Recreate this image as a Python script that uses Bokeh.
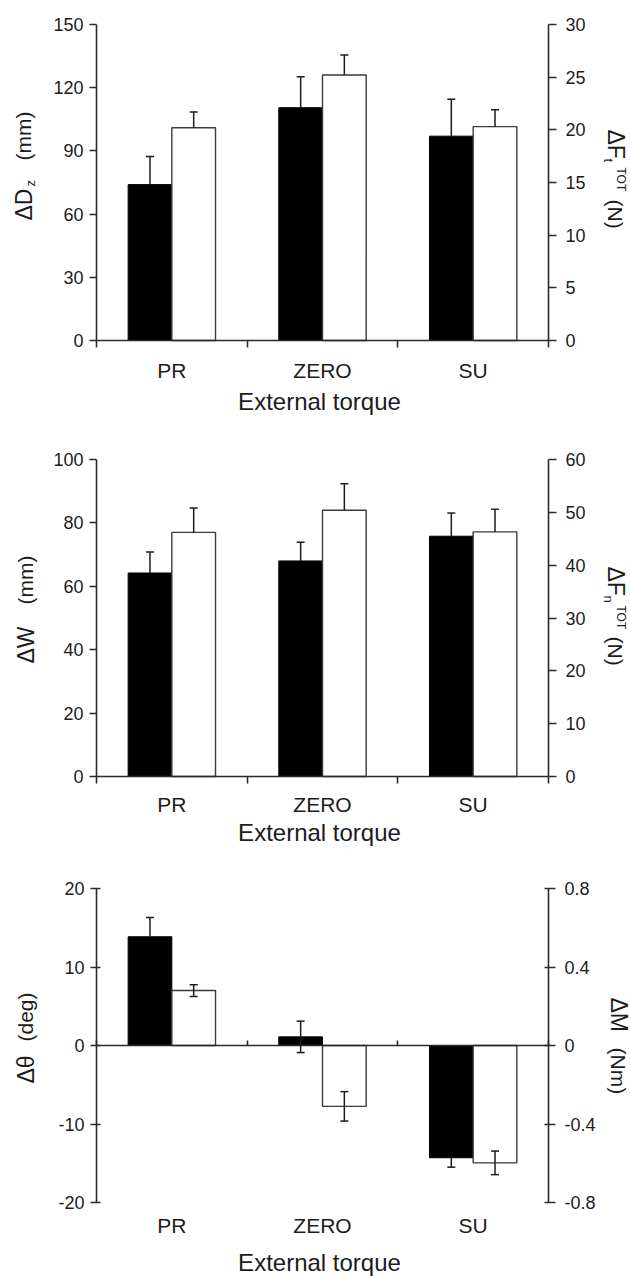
from bokeh.plotting import figure
from bokeh.models import Range1d, LinearAxis, FixedTicker, Whisker, TeeHead, ColumnDataSource, Label
from bokeh.layouts import column
from bokeh.embed import file_html
from bokeh.resources import INLINE
import math

# ---------------- data ----------------
categories = ["PR", "ZERO", "SU"]
x_title = "External torque"

# panel 1: black = ΔDz (mm, left axis), white = ΔFt_TOT (N, right axis)
dz_mm = [74.0, 110.5, 97.0]
dz_err = [13.3, 14.7, 17.5]
ft_n = [20.2, 25.2, 20.3]
ft_err = [1.5, 1.9, 1.6]

# panel 2: black = ΔW (mm), white = ΔFn_TOT (N)
w_mm = [64.2, 68.0, 75.8]
w_err = [6.6, 5.9, 7.3]
fn_n = [46.2, 50.4, 46.3]
fn_err = [4.6, 5.0, 4.3]

# panel 3: black = Δθ (deg), white = ΔM (Nm)
theta_deg = [13.85, 1.1, -14.3]
theta_err_up = [2.45, 2.0, 0.0]
theta_err_down = [0.0, 2.0, 1.2]
m_nm = [0.28, -0.31, -0.598]
m_err_up = [0.03, 0.075, 0.06]
m_err_down = [0.03, 0.075, 0.06]

ticks1_l = [0, 30, 60, 90, 120, 150]
ticks1_r = [0, 5, 10, 15, 20, 25, 30]
ticks2_l = [0, 20, 40, 60, 80, 100]
ticks2_r = [0, 10, 20, 30, 40, 50, 60]
ticks3_l = [-20, -10, 0, 10, 20]
ticks3_l_text = ["-20", "-10", "0", "10", "20"]
ticks3_r = [-0.8, -0.4, 0, 0.4, 0.8]
ticks3_r_text = ["-0.8", "-0.4", "0", "0.4", "0.8"]

# ---------------- layout constants ----------------
W = 630
FL, FR = 96, 548
FONT = "Liberation Sans"
INK = "#1c1c1c"
AX = "#2a2a2a"
BW = 0.29
BIG = 23    # Δ-symbol pieces of axis titles
MID = 21    # unit pieces of axis titles


class G:
    def __init__(self, height, top, bottom, yl, yr):
        self.height, self.top, self.bottom, self.yl, self.yr = height, top, bottom, yl, yr


def extend(lo, hi, px_lo, px_hi, m_lo, m_hi):
    s = (hi - lo) / (px_hi - px_lo)
    return lo - m_lo * s, hi + m_hi * s


def px2data(g, px, py):
    xd = (px - FL) / (FR - FL) * 3.0
    yd = g.yl[0] + (g.bottom - py) / (g.bottom - g.top) * (g.yl[1] - g.yl[0])
    return xd, yd


def label(p, g, text, px, py, size, angle=0.0, align="left", baseline="middle"):
    xd, yd = px2data(g, px, py)
    p.add_layout(Label(x=xd, y=yd, text=text, angle=angle, text_align=align,
                       text_baseline=baseline, text_font=FONT,
                       text_font_size=f"{size}px", text_color=INK))


def style_y(ax, ticks, tin, tout, standoff):
    ax.ticker = FixedTicker(ticks=ticks)
    ax.minor_tick_line_color = None
    ax.major_tick_in = tin
    ax.major_tick_out = tout
    ax.axis_line_width = 1.6
    ax.axis_line_color = AX
    ax.major_tick_line_width = 1.6
    ax.major_tick_line_color = AX
    ax.major_label_text_font = FONT
    ax.major_label_text_font_size = "18px"
    ax.major_label_text_color = INK
    ax.major_label_standoff = standoff


def make_fig(g, ticks_l, ticks_r, zero_axis=False):
    xr = Range1d(*extend(0, 3, FL, FR, FL, W - FR))
    ylo, yhi = extend(g.yl[0], g.yl[1], 0, g.bottom - g.top, g.height - g.bottom, g.top)
    rlo, rhi = extend(g.yr[0], g.yr[1], 0, g.bottom - g.top, g.height - g.bottom, g.top)
    p = figure(width=W, height=g.height, x_range=xr, y_range=Range1d(ylo, yhi),
               output_backend="svg", toolbar_location=None,
               x_axis_location=None, y_axis_location=None,
               min_border=0, min_border_left=0, min_border_right=0,
               min_border_top=0, min_border_bottom=0)
    p.extra_y_ranges = {"r": Range1d(rlo, rhi)}
    p.outline_line_color = None
    for gr in p.grid:
        gr.visible = False
    p.background_fill_color = "white"
    p.border_fill_color = "white"

    tin, tout = (4, 6) if zero_axis else (0, 7)
    lax = LinearAxis(fixed_location=0, bounds=g.yl)
    style_y(lax, ticks_l, tin, tout, 6)
    p.add_layout(lax, "left")
    rax = LinearAxis(y_range_name="r", fixed_location=3, bounds=g.yr)
    style_y(rax, ticks_r, tin, tout + 1, 9)
    p.add_layout(rax, "right")

    xa = LinearAxis(fixed_location=0, bounds=(0, 3))
    xa.ticker = FixedTicker(ticks=[], minor_ticks=[0, 1, 2, 3])
    xa.axis_line_width = 1.6
    xa.axis_line_color = AX
    xa.minor_tick_line_color = AX
    xa.minor_tick_line_width = 1.6
    xa.major_tick_line_color = None
    xa.major_label_text_font_size = "1px"
    if zero_axis:
        xa.minor_tick_in = 5
        xa.minor_tick_out = 0
    else:
        xa.minor_tick_in = 0
        xa.minor_tick_out = 7
    p.add_layout(xa, "below")
    return p, lax, rax


def bars(p, black, white):
    xb = [i + 0.5 - BW / 2 for i in range(len(categories))]
    xw = [i + 0.5 + BW / 2 for i in range(len(categories))]
    p.vbar(x=xb, width=BW, bottom=0, top=black, fill_color="black", line_color="black", line_width=1)
    p.vbar(x=xw, width=BW, bottom=0, top=white, fill_color="white", line_color="#3a3a3a",
           line_width=1.4, y_range_name="r")
    return xb, xw


def whisker(p, xs, lower, upper, up_head, low_head, rname=None):
    if not xs:
        return
    src = ColumnDataSource(dict(base=xs, lower=lower, upper=upper))
    kw = {}
    if rname:
        kw["y_range_name"] = rname
    w = Whisker(base="base", lower="lower", upper="upper", source=src, dimension="height",
                line_color=INK, line_width=1.5, level="overlay",
                upper_head=TeeHead(size=8, line_width=1.5, line_color=INK) if up_head else None,
                lower_head=TeeHead(size=8, line_width=1.5, line_color=INK) if low_head else None,
                **kw)
    p.add_layout(w)


def cat_labels(p, g, py):
    for i, c in enumerate(categories):
        px = FL + (i + 0.5) / 3.0 * (FR - FL)
        label(p, g, c, px, py, 21, align="center")


up = math.pi / 2
dn = -math.pi / 2

# ---------------- panel 1 (page y 0..420) ----------------
g1 = G(420, 24, 340, (0, 150), (0, 30))
p1, l1, r1 = make_fig(g1, ticks1_l, ticks1_r)
xb, xw = bars(p1, dz_mm, ft_n)
whisker(p1, xb, dz_mm, [v + e for v, e in zip(dz_mm, dz_err)], True, False)
whisker(p1, xw, ft_n, [v + e for v, e in zip(ft_n, ft_err)], True, False, "r")
cat_labels(p1, g1, 370)
label(p1, g1, x_title, 319, 401, 24, align="center")
label(p1, g1, "ΔD", 23, 220, BIG, angle=up)
label(p1, g1, "z", 30, 186, 13, angle=up)
label(p1, g1, "(mm)", 23, 160, MID, angle=up)
label(p1, g1, "ΔF", 615, 129, BIG, angle=dn)
label(p1, g1, "t", 608, 158, 13, angle=dn)
label(p1, g1, "TOT", 620, 167, 12, angle=dn)
label(p1, g1, "(N)", 615, 199, MID, angle=dn)

# ---------------- panel 2 (page y 420..850) ----------------
g2 = G(430, 39, 356, (0, 100), (0, 60))
p2, l2, r2 = make_fig(g2, ticks2_l, ticks2_r)
xb, xw = bars(p2, w_mm, fn_n)
whisker(p2, xb, w_mm, [v + e for v, e in zip(w_mm, w_err)], True, False)
whisker(p2, xw, fn_n, [v + e for v, e in zip(fn_n, fn_err)], True, False, "r")
cat_labels(p2, g2, 384)
label(p2, g2, x_title, 319, 412, 24, align="center")
label(p2, g2, "ΔW", 25, 243, BIG, angle=up)
label(p2, g2, "(mm)", 25, 184, MID, angle=up)
label(p2, g2, "ΔF", 615, 146, BIG, angle=dn)
label(p2, g2, "n", 608, 175, 13, angle=dn)
label(p2, g2, "TOT", 620, 185, 12, angle=dn)
label(p2, g2, "(N)", 615, 216, MID, angle=dn)

# ---------------- panel 3 (page y 850..1276) ----------------
g3 = G(426, 38, 352, (-20, 20), (-0.8, 0.8))
p3, l3, r3 = make_fig(g3, ticks3_l, ticks3_r, zero_axis=True)
l3.major_label_overrides = {t: s for t, s in zip(ticks3_l, ticks3_l_text)}
r3.major_label_overrides = {t: s for t, s in zip(ticks3_r, ticks3_r_text)}
xb, xw = bars(p3, theta_deg, m_nm)
iu = [i for i, e in enumerate(theta_err_up) if e > 0]
idn = [i for i, e in enumerate(theta_err_down) if e > 0]
whisker(p3, [xb[i] for i in iu], [theta_deg[i] for i in iu],
        [theta_deg[i] + theta_err_up[i] for i in iu], True, False)
whisker(p3, [xb[i] for i in idn], [theta_deg[i] - theta_err_down[i] for i in idn],
        [theta_deg[i] for i in idn], False, True)
whisker(p3, xw, [v - e for v, e in zip(m_nm, m_err_down)],
        [v + e for v, e in zip(m_nm, m_err_up)], True, True, "r")
cat_labels(p3, g3, 375)
label(p3, g3, x_title, 319, 412, 24, align="center")
label(p3, g3, "Δθ", 25, 233, BIG, angle=up)
label(p3, g3, "(deg)", 25, 191, MID, angle=up)
label(p3, g3, "ΔM", 618, 147, BIG, angle=dn)
label(p3, g3, "(Nm)", 618, 197, MID, angle=dn)

layout = column(p1, p2, p3, spacing=0)
open("out.html", "w").write(file_html(layout, INLINE))
